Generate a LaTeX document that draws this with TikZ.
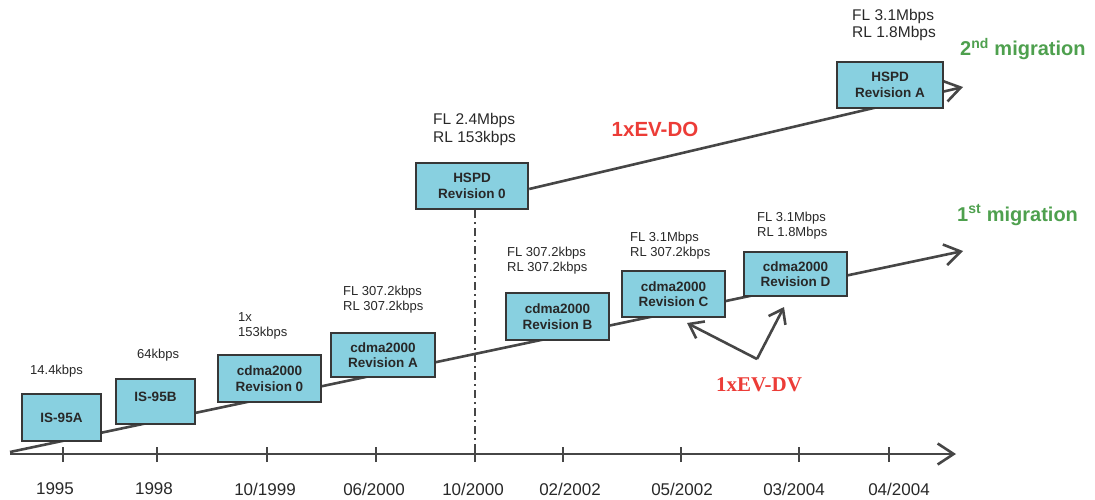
\documentclass[tikz,border=0pt]{standalone}
\usepackage{fontspec}
\setmainfont{Liberation Sans}
\newfontfamily\dvfont{Liberation Serif}
\usetikzlibrary{arrows.meta}
\definecolor{boxfill}{RGB}{136,208,224}
\definecolor{boxline}{RGB}{55,55,55}
\definecolor{lineg}{RGB}{70,70,70}
\definecolor{txtg}{RGB}{40,40,40}
\definecolor{migreen}{RGB}{78,160,78}
\definecolor{evred}{RGB}{236,60,55}
\pgfdeclarelayer{bg}
\pgfsetlayers{bg,main}
\begin{document}
\begin{tikzpicture}[x=1pt,y=-1pt,
  box/.style={draw=boxline, fill=boxfill, line width=2.4pt, inner sep=0pt,
    font=\fontsize{13.5}{15.5}\selectfont\bfseries, align=center, text=txtg},
  rate/.style={anchor=west, inner sep=0pt, align=left,
    font=\fontsize{13}{15}\selectfont, text=txtg},
  toprate/.style={anchor=west, inner sep=0pt, align=left,
    font=\fontsize{15.5}{17.5}\selectfont, text=txtg},
  year/.style={inner sep=0pt, font=\fontsize{17}{20}\selectfont, text=txtg},
  mainline/.style={draw=lineg, line width=2.6pt},
  tickline/.style={draw=lineg, line width=2pt},
  tipped/.style={-{Straight Barb[length=16pt,width=21pt]}},
  dashdotline/.style={draw=lineg, line width=2.4pt, dash pattern=on 8pt off 4pt on 2pt off 4pt},
  migtext/.style={anchor=west, inner sep=0pt, text=migreen, font=\fontsize{20}{24}\selectfont\bfseries},
]
\path[use as bounding box] (0,0) rectangle (1095,500);

% coordinates
\coordinate (o) at (10,454);
\coordinate (axend) at (956,454);
\coordinate (o1) at (10,452);
\coordinate (m1end) at (963,251);
\coordinate (m2end) at (963,87);
\coordinate (t5) at (475,454);
\coordinate (dv) at (757,359);
\coordinate (dvl) at (687,323);
\coordinate (dvr) at (784,307);

% boxes
\node[box, minimum width=79pt, minimum height=47pt] (b95a) at (61.5,417.5) {IS-95A};
\node[box, minimum width=79pt, minimum height=45pt, text depth=10pt] (b95b) at (155.5,401.5) {IS-95B};
\node[box, minimum width=103pt, minimum height=47pt] (r0) at (269.5,378.5) {cdma2000\\Revision 0};
\node[box, minimum width=104pt, minimum height=44pt] (ra) at (383,355) {cdma2000\\Revision A};
\node[box, minimum width=112pt, minimum height=46pt] (h0) at (472,186) {HSPD\\Revision 0};
\node[box, minimum width=103pt, minimum height=47pt] (rb) at (557.5,316.5) {cdma2000\\Revision B};
\node[box, minimum width=103pt, minimum height=46pt] (rc) at (673.5,294) {cdma2000\\Revision C};
\node[box, minimum width=103pt, minimum height=44pt] (rd) at (795.5,274) {cdma2000\\Revision D};
\node[box, minimum width=106pt, minimum height=46pt] (ha) at (890,85) {HSPD\\Revision A};

% lines behind boxes
\begin{pgfonlayer}{bg}
\draw[mainline, tipped] (o) -- (axend);
\draw[mainline, tipped] (o1) -- (m1end);
\draw[mainline, tipped] ([yshift=-3pt]h0.east) -- (m2end);
\draw[dashdotline] (h0.south -| t5) -- (t5);
\end{pgfonlayer}

% ticks and years
\foreach \tx/\lx/\lab [count=\i] in {63/55/1995, 157/154/1998, 267/265/10\slash 1999, 376/374/06\slash 2000,
  475/473/10\slash 2000, 563/570/02\slash 2002, 681/682/05\slash 2002, 799/794/03\slash 2004, 889/899/04\slash 2004}{
  \coordinate (tk\i) at (\tx,454);
  \draw[tickline] ([yshift=-8pt]tk\i) -- ([yshift=7pt]tk\i);
  \node[year] (yr\i) at (\lx,489) {\lab};
}

% rate labels
\node[rate] (l95a) at (30,371) {14.4kbps};
\node[rate] (l95b) at (137,355) {64kbps};
\node[rate] (lr0) at (238,325.5) {1x\\153kbps};
\node[rate] (lra) at (343,300) {FL 307.2kbps\\RL 307.2kbps};
\node[toprate] (lh0) at (433,129.5) {FL 2.4Mbps\\RL 153kbps};
\node[rate] (lrb) at (507,261) {FL 307.2kbps\\RL 307.2kbps};
\node[rate] (lrc) at (630,246) {FL 3.1Mbps\\RL 307.2kbps};
\node[rate] (lrd) at (757,225.5) {FL 3.1Mbps\\RL 1.8Mbps};
\node[toprate] (lha) at (852,25) {FL 3.1Mbps\\RL 1.8Mbps};

% migration labels
\node[migtext] (mig2) at (960,49) {2\textsuperscript{nd} migration};
\node[migtext] (mig1) at (957,215) {1\textsuperscript{st} migration};

% EV labels
\node[inner sep=0pt, text=evred, font=\fontsize{20.5}{24}\selectfont\bfseries] (evdo) at (655,129) {1xEV-DO};
\node[inner sep=0pt, text=evred, font=\dvfont\fontsize{21}{24}\selectfont\bfseries] (evdv) at (759,385) {1xEV-DV};
\draw[mainline, -{Straight Barb[length=13pt,width=19pt]}] (dv) -- (dvl);
\draw[mainline, -{Straight Barb[length=13pt,width=19pt]}] (dv) -- (dvr);
\end{tikzpicture}
\end{document}
